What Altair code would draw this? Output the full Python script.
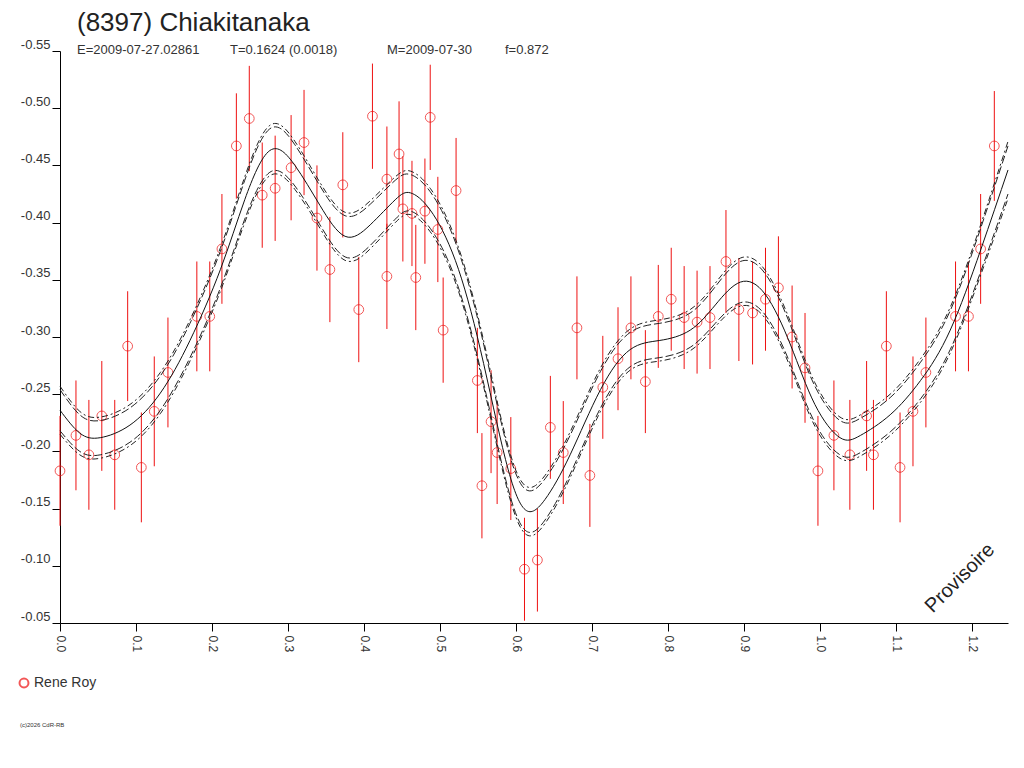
import altair as alt
import pandas as pd

# observations: phase, reduced magnitude, error
phase = [0.000, 0.021, 0.038, 0.055, 0.072, 0.089, 0.107, 0.124, 0.142, 0.180, 0.197, 0.213,
         0.232, 0.249, 0.266, 0.283, 0.304, 0.321, 0.338, 0.355, 0.372, 0.393, 0.411, 0.430,
         0.430, 0.446, 0.451, 0.463, 0.468, 0.480, 0.487, 0.497, 0.504, 0.521, 0.549, 0.555,
         0.567, 0.575, 0.593, 0.611, 0.628, 0.645, 0.662, 0.680, 0.697, 0.714, 0.734, 0.751,
         0.770, 0.787, 0.804, 0.821, 0.838, 0.855, 0.876, 0.893, 0.911, 0.928, 0.945, 0.963,
         0.980, 0.997, 1.018, 1.039, 1.061, 1.070, 1.087, 1.105, 1.122, 1.139, 1.178, 1.195,
         1.211, 1.229]
mag = [-0.183, -0.214, -0.197, -0.231, -0.197, -0.292, -0.186, -0.235, -0.269, -0.318, -0.318, -0.377,
       -0.467, -0.491, -0.424, -0.430, -0.448, -0.470, -0.404, -0.359, -0.433, -0.324, -0.493, -0.438,
       -0.353, -0.460, -0.412, -0.408, -0.352, -0.410, -0.492, -0.394, -0.306, -0.428, -0.262, -0.170,
       -0.226, -0.199, -0.185, -0.097, -0.105, -0.221, -0.199, -0.308, -0.179, -0.256, -0.281, -0.308,
       -0.261, -0.318, -0.333, -0.317, -0.313, -0.317, -0.366, -0.324, -0.321, -0.333, -0.343, -0.300,
       -0.273, -0.183, -0.214, -0.197, -0.231, -0.197, -0.292, -0.186, -0.235, -0.269, -0.318, -0.318,
       -0.377, -0.467]
err = [0.048] * 12 + [0.046] * 24 + [0.045] * 24 + [0.048] * 14

# fitted curve read at sample phases, with band half-widths (inner dashed, outer dash-dot)
fit_phase = [0.000, 0.026, 0.053, 0.092, 0.132, 0.171, 0.211, 0.243, 0.276, 0.309, 0.342, 0.375,
             0.408, 0.441, 0.461, 0.487, 0.520, 0.553, 0.586, 0.612, 0.638, 0.671, 0.711, 0.750,
             0.789, 0.829, 0.862, 0.895, 0.928, 0.961, 0.993, 1.026, 1.053, 1.092, 1.132, 1.171,
             1.211, 1.247]
fit_mag = [-0.236, -0.216, -0.212, -0.223, -0.251, -0.297, -0.359, -0.420, -0.463, -0.450, -0.415, -0.388,
           -0.398, -0.420, -0.426, -0.411, -0.367, -0.289, -0.193, -0.149, -0.158, -0.197, -0.254, -0.289,
           -0.297, -0.306, -0.328, -0.348, -0.337, -0.293, -0.241, -0.212, -0.214, -0.232, -0.262, -0.306,
           -0.376, -0.446]
band_in = [0.018, 0.016, 0.015, 0.015, 0.015, 0.015, 0.016, 0.017, 0.019, 0.018, 0.017, 0.018,
           0.018, 0.017, 0.016, 0.016, 0.016, 0.017, 0.017, 0.018, 0.018, 0.017, 0.016, 0.015,
           0.015, 0.015, 0.016, 0.018, 0.018, 0.017, 0.016, 0.015, 0.015, 0.015, 0.016, 0.017,
           0.019, 0.021]
band_out = [0.021, 0.019, 0.018, 0.018, 0.018, 0.018, 0.019, 0.020, 0.022, 0.021, 0.020, 0.021,
            0.021, 0.020, 0.019, 0.019, 0.019, 0.020, 0.020, 0.021, 0.021, 0.020, 0.019, 0.018,
            0.018, 0.018, 0.019, 0.021, 0.021, 0.020, 0.019, 0.018, 0.018, 0.018, 0.019, 0.020,
            0.022, 0.025]

x_ticks = [round(i * 0.05, 2) for i in range(25)]
y_ticks = [round(-0.55 + i * 0.05, 2) for i in range(11)]

FONT = "Liberation Sans"

obs = pd.DataFrame({"phase": phase, "mag": mag, "err": err})
obs["lo"] = obs["mag"] - obs["err"]
obs["hi"] = obs["mag"] + obs["err"]

fit = pd.DataFrame({"phase": fit_phase, "mag": fit_mag, "bi": band_in, "bo": band_out})
fit["ui"] = fit["mag"] - fit["bi"]
fit["uo"] = fit["mag"] - fit["bo"]
fit["li"] = fit["mag"] + fit["bi"]
fit["lo"] = fit["mag"] + fit["bo"]

xs = alt.Scale(domain=[0, 1.247], nice=False, zero=False)
ys = alt.Scale(domain=[-0.55, -0.05], reverse=True, nice=False, zero=False)

x_ax = alt.Axis(values=x_ticks, title=None, labelAngle=90, labelAlign="left", labelBaseline="middle",
                labelExpr="(round(datum.value*100) % 10 == 0) ? format(datum.value, '.1f') : ''",
                tickSize=8, labelPadding=4, grid=False, domainColor="#000", tickColor="#000",
                labelFont=FONT, labelFontSize=12, labelColor="#333", labelFlush=False, labelOverlap=False)
y_ax = alt.Axis(values=y_ticks, title=None, tickSize=8, grid=False, labelBaseline="bottom",
                labelExpr="'-' + format(abs(datum.value), '.2f')",
                labelPadding=2, domainColor="#000", tickColor="#000", labelFont=FONT, labelFontSize=13,
                labelColor="#333", labelOverlap=False)

base = alt.Chart(obs)
bars = base.mark_rule(color="#ee1111", strokeWidth=1).encode(
    x=alt.X("phase:Q", scale=xs, axis=x_ax), y=alt.Y("lo:Q", scale=ys, axis=y_ax), y2="hi:Q")
pts = base.mark_point(shape="circle", color="#ee1111", size=95, strokeWidth=1, filled=False).encode(
    x=alt.X("phase:Q", scale=xs), y=alt.Y("mag:Q", scale=ys))

fb = alt.Chart(fit)
lines = [fb.mark_line(color="#111", strokeWidth=1, interpolate="natural").encode(
    x=alt.X("phase:Q", scale=xs), y=alt.Y("mag:Q", scale=ys))]
for col, dash in [("ui", [8, 3]), ("li", [8, 3]), ("uo", [6, 3, 2, 3]), ("lo", [6, 3, 2, 3])]:
    lines.append(fb.mark_line(color="#222", strokeWidth=1, strokeDash=dash, interpolate="natural").encode(
        x=alt.X("phase:Q", scale=xs), y=alt.Y(f"{col}:Q", scale=ys)))

one = alt.Chart(pd.DataFrame({"a": [0]}))
title = one.mark_text(text="(8397) Chiakitanaka", font=FONT, fontSize=26, color="#222", align="left",
                      baseline="alphabetic").encode(x=alt.value(17), y=alt.value(-20))
subs = []
for txt, px in [("E=2009-07-27.02861", 17), ("T=0.1624 (0.0018)", 170),
                ("M=2009-07-30", 327), ("f=0.872", 445)]:
    subs.append(one.mark_text(text=txt, font=FONT, fontSize=13, color="#333", align="left",
                              baseline="alphabetic").encode(x=alt.value(px), y=alt.value(3)))
prov = one.mark_text(text="Provisoire", font=FONT, fontSize=20, color="#222", angle=315,
                     align="center", baseline="middle").encode(x=alt.value(900), y=alt.value(527))
leg_pt = one.mark_point(shape="circle", color="#ee1111", size=80, filled=False).encode(
    x=alt.value(-36), y=alt.value(632))
leg_tx = one.mark_text(text="Rene Roy", font=FONT, fontSize=14, color="#333", align="left",
                       baseline="middle").encode(x=alt.value(-26), y=alt.value(632))
copy = one.mark_text(text="(c)2026 CdR-RB", font=FONT, fontSize=6, color="#333", align="left",
                     baseline="middle").encode(x=alt.value(-40), y=alt.value(674))

chart = alt.layer(bars, pts, *lines, title, *subs, prov, leg_pt, leg_tx, copy).properties(
    width=948, height=572, autosize=alt.AutoSizeParams(type="none"),
    padding={"left": 52, "top": 43, "right": 8, "bottom": 137}
).configure(background="white").configure_view(stroke=None)

chart.save("out.html", embed_options={"renderer": "svg", "actions": False})
